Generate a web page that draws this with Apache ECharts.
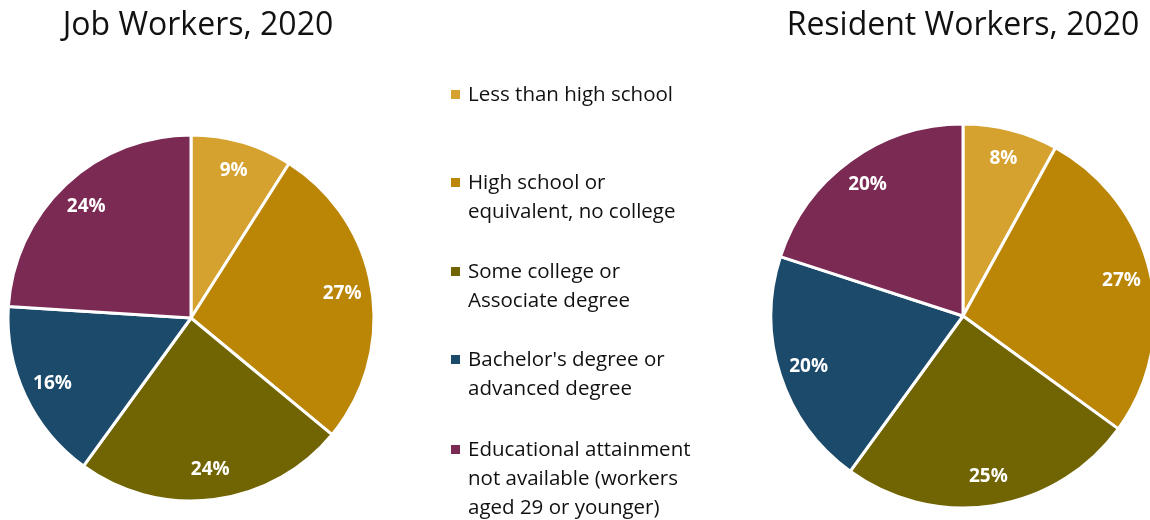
<!DOCTYPE html>
<html>
<head>
<meta charset="utf-8">
<script src="https://cdn.jsdelivr.net/npm/echarts@6/dist/echarts.min.js"></script>
<style>
  html, body { margin: 0; padding: 0; background: #fff; }
  #chart { width: 1150px; height: 520px; }
</style>
</head>
<body>
<div id="chart"></div>
<script>
// Education categories (legend wording, with line breaks as shown)
const categories = [
  'Less than high school',
  'High school or\nequivalent, no college',
  'Some college or\nAssociate degree',
  "Bachelor's degree or\nadvanced degree",
  'Educational attainment\nnot available (workers\naged 29 or younger)'
];
const colors = ['#D5A22F', '#BB8506', '#706403', '#1B4A6B', '#7B2A53'];

// Share of workers (%) by educational attainment
const jobWorkers = [9, 27, 24, 16, 24];
const residentWorkers = [8, 27, 25, 20, 20];

const titles = ['Job Workers, 2020', 'Resident Workers, 2020'];

const FONT = '"Open Sans", "Noto Sans", sans-serif';

function slices(values) {
  return values.map((v, i) => ({
    name: categories[i],
    value: v,
    itemStyle: { color: colors[i] }
  }));
}

// Solid pie with white separators
function basePie(values, center, r) {
  return {
    type: 'pie',
    center: center,
    radius: [0, r],
    startAngle: 90,
    clockwise: true,
    silent: true,
    animation: false,
    label: { show: false },
    labelLine: { show: false },
    itemStyle: { borderColor: '#ffffff', borderWidth: 3 },
    data: slices(values)
  };
}

// Transparent ring that only carries the percentage labels near the rim
function labelRing(values, center, r, inner) {
  return {
    type: 'pie',
    center: center,
    radius: [r * inner, r],
    startAngle: 90,
    clockwise: true,
    silent: true,
    animation: false,
    itemStyle: { color: 'rgba(0,0,0,0)', borderWidth: 0 },
    label: {
      show: true,
      position: 'inside',
      formatter: p => p.value + '%',
      color: '#ffffff',
      fontFamily: FONT,
      fontWeight: 'bold',
      fontSize: 19
    },
    labelLine: { show: false },
    data: values.map(v => ({ value: v }))
  };
}

const legendGraphics = [];
const legendTops = [95, 183, 272, 360, 450];
categories.forEach((name, i) => {
  legendGraphics.push({
    type: 'rect',
    left: 451, top: legendTops[i] - 5,
    shape: { width: 9, height: 9 },
    style: { fill: colors[i] }
  });
  legendGraphics.push({
    type: 'text',
    left: 468, top: legendTops[i] - 14.5,
    style: {
      text: name,
      fill: '#111111',
      font: '20.5px ' + FONT,
      lineHeight: 29
    }
  });
});

const chart = echarts.init(document.getElementById('chart'), null, { renderer: 'canvas' });
chart.setOption({
  backgroundColor: '#ffffff',
  animation: false,
  title: [
    { text: titles[0], left: 193, top: 5, textAlign: 'center',
      textStyle: { fontFamily: FONT, fontWeight: 'normal', fontSize: 32, color: '#111111' } },
    { text: titles[1], left: 958, top: 5, textAlign: 'center',
      textStyle: { fontFamily: FONT, fontWeight: 'normal', fontSize: 32, color: '#111111' } }
  ],
  graphic: legendGraphics,
  series: [
    basePie(jobWorkers, [191, 318], 183),
    labelRing(jobWorkers, [191, 318], 183, 0.64),
    basePie(residentWorkers, [963, 316], 192),
    labelRing(residentWorkers, [963, 316], 192, 0.66)
  ]
});
</script>
</body>
</html>
